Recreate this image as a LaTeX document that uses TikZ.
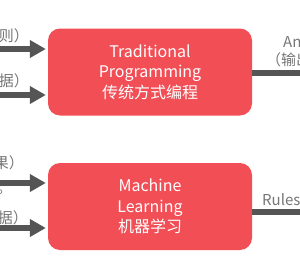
\documentclass[tikz,border=0pt]{standalone}
\usepackage{fontspec}
\setmainfont{Noto Sans CJK SC}
\usetikzlibrary{arrows.meta}
\definecolor{boxred}{RGB}{241,78,85}
\definecolor{arrgray}{RGB}{85,85,85}
\definecolor{labgray}{RGB}{118,118,118}
\begin{document}
\begin{tikzpicture}[x=1pt,y=-1pt,
  procbox/.style={fill=boxred,draw=none,rounded corners=12pt,text=white,align=center,
    minimum width=204pt,minimum height=87pt,inner sep=0pt,
    font=\fontsize{16}{20.5}\selectfont},
  arr/.style={draw=arrgray,line width=5.5pt,-{Triangle[length=16pt,width=17pt]},shorten >=2pt},
  outline/.style={draw=arrgray,line width=5.5pt},
  lab/.style={text=labgray,inner sep=0pt,font=\fontsize{15}{18}\selectfont}
]
\useasboundingbox (0,0) rectangle (300,265);
\clip (0,0) rectangle (300,265);
% boxes
\node[procbox] (tp) at (150,72) {Traditional\\Programming\\传统方式编程};
\node[procbox] (ml) at (150,206.5) {Machine\\Learning\\机器学习};
% input coordinates
\coordinate (i1) at (-10,49);
\coordinate (i2) at (-10,95);
\coordinate (i3) at (-10,183);
\coordinate (i4) at (-10,228);
\coordinate (o1) at (310,73);
\coordinate (o2) at (310,212);
% arrows
\draw[arr] (i1) -- (i1 -| tp.west);
\draw[arr] (i2) -- (i2 -| tp.west);
\draw[arr] (i3) -- (i3 -| ml.west);
\draw[arr] (i4) -- (i4 -| ml.west);
\draw[outline] (o1 -| tp.east) -- (o1);
\draw[outline] (o2 -| ml.east) -- (o2);
% labels
\node[lab,anchor=east] (l1) at (29,36) {则）};
\node[lab,anchor=east] (l2) at (29,81) {据）};
\node[lab,anchor=east] (l3) at (24,163) {果）};
\node[lab,anchor=base west] (l3b) at (-3,193) {。};
\node[lab,anchor=east] (l4) at (28,218) {据）};
\node[lab,anchor=base west] (r1) at (283,47) {Answers};
\node[lab,anchor=base west] (r2) at (266,65) {（输出结果）};
\node[lab,anchor=base west] (r3) at (262,205) {Rules};
\end{tikzpicture}
\end{document}
